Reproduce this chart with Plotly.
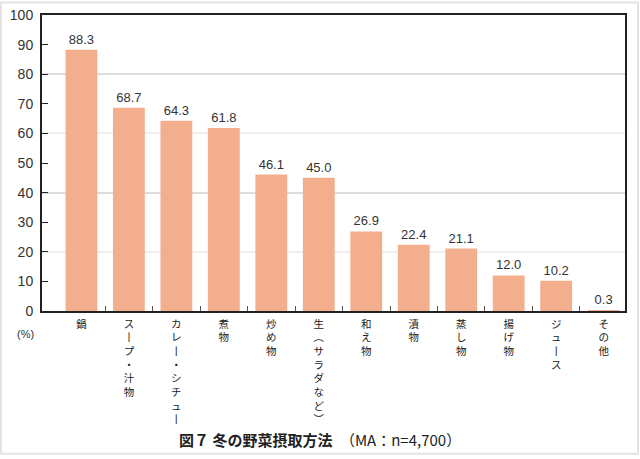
import plotly.graph_objects as go

categories = ["鍋", "スープ・汁物", "カレー・シチュー", "煮物", "炒め物", "生（サラダなど）",
              "和え物", "漬物", "蒸し物", "揚げ物", "ジュース", "その他"]
values = [88.3, 68.7, 64.3, 61.8, 46.1, 45.0, 26.9, 22.4, 21.1, 12.0, 10.2, 0.3]
value_labels = ["88.3", "68.7", "64.3", "61.8", "46.1", "45.0", "26.9", "22.4", "21.1", "12.0", "10.2", "0.3"]
y_ticks = [0, 10, 20, 30, 40, 50, 60, 70, 80, 90, 100]
title_main = "図７ 冬の野菜摂取方法"
title_sub = "（MA：n=4,700）"
unit_label = "(%)"

VERT = {"ー": "丨", "（": "︵", "）": "︶"}


def vertical(s):
    return "<br>".join(VERT.get(c, c) for c in s)


W, H = 640, 459
ml, mr, mt, mb = 42, 15, 14.5, 148
pw, ph = W - ml - mr, H - mt - mb
xr = [-0.83, 11.45]

fig = go.Figure()
fig.add_trace(go.Bar(
    x=categories, y=values, text=value_labels, textposition="outside",
    textfont=dict(family="Liberation Sans, Arial", size=13, color="#333"),
    marker=dict(color="#F3AF8D", line=dict(width=0)),
    cliponaxis=False, showlegend=False, hoverinfo="skip",
))

# invisible traces to activate overlay axes for gridlines and ticks
fig.add_trace(go.Scatter(x=[None], y=[None], xaxis="x2", yaxis="y2", showlegend=False))
fig.add_trace(go.Scatter(x=[None], y=[None], xaxis="x2", yaxis="y3", showlegend=False))

fig.update_layout(
    width=W, height=H,
    margin=dict(l=ml, r=mr, t=mt, b=mb, autoexpand=False),
    paper_bgcolor="white", plot_bgcolor="white",
    bargap=0.33,
    xaxis=dict(
        type="category", range=xr, automargin=False,
        tickvals=categories, ticktext=[vertical(c) for c in categories],
        tickfont=dict(family="Noto Sans CJK JP", size=10.5, color="#1a1a1a"),
        ticks="", showgrid=False, showline=True, linecolor="#222", linewidth=2,
        mirror=True, ticklabelstandoff=2, tickangle=0,
    ),
    yaxis=dict(
        range=[0, 100], tickvals=y_ticks, ticks="inside", ticklen=6, tickcolor="#222",
        tickfont=dict(family="Liberation Sans, Arial", size=14, color="#333"),
        showgrid=False, showline=True, linecolor="#222", linewidth=2, mirror=True,
        zeroline=False, ticklabelstandoff=4, automargin=False,
    ),
    xaxis2=dict(
        overlaying="x", type="linear", range=xr, tickvals=[i + 0.5 for i in range(len(categories) - 1)],
        ticks="inside", ticklen=5, tickcolor="#555", tickwidth=1, side="bottom",
        showticklabels=False, showgrid=False, zeroline=False, showline=False, automargin=False,
    ),
    yaxis2=dict(
        overlaying="y", range=[0, 100], dtick=20, showticklabels=False, ticks="",
        showgrid=True, gridcolor="#efefef", gridwidth=1.5, zeroline=False, showline=False,
        automargin=False,
    ),
    yaxis3=dict(
        overlaying="y", range=[0, 100], dtick=40, showticklabels=False, ticks="",
        showgrid=True, gridcolor="#dddddd", gridwidth=1.5, zeroline=False, showline=False,
        automargin=False,
    ),
    annotations=[
        dict(text=unit_label, xref="paper", yref="paper",
             x=(25 - ml) / pw, y=(H - mb - 334) / ph, xanchor="center", yanchor="middle",
             showarrow=False,
             font=dict(family="Liberation Sans, Arial", size=11, color="#333")),
        dict(text="<b>" + title_main + "</b>　<span style='font-weight:normal'>" + title_sub + "</span>",
             xref="paper", yref="paper", x=(320 - ml) / pw, y=(H - mb - 440) / ph,
             xanchor="center", yanchor="middle",
             showarrow=False, font=dict(family="Noto Sans CJK JP", size=15, color="#222")),
    ],
    shapes=[dict(type="rect", xref="paper", yref="paper",
                 x0=(1 - ml) / pw, x1=(638 - ml) / pw,
                 y0=(H - mb - 454) / ph, y1=(H - mb - 2) / ph,
                 line=dict(color="#e3e3e3", width=2), layer="below")],
)

fig.write_html("out.html", config={"displayModeBar": False},
               post_script="document.body.style.margin='0';document.body.style.overflow='hidden';")
